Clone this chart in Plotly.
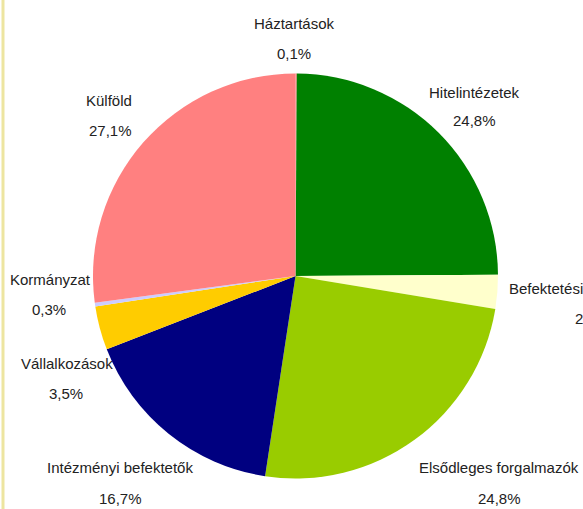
import plotly.graph_objects as go

# ---- data ----
categories = ["Háztartások", "Hitelintézetek", "Befektetési", "Elsődleges forgalmazók",
              "Intézményi befektetők", "Vállalkozások", "Kormányzat", "Külföld"]
shares = [0.1, 24.8, 2.7, 24.8, 16.7, 3.5, 0.3, 27.1]
colors = ["#FF8080", "#008000", "#FFFFCC", "#99CC00", "#000080", "#FFCC00", "#CCCCFF", "#FF8080"]

W, H = 583, 509

# label layout (pixel positions: name x, name y, value x, value y, anchor)
label_layout = {
    "Háztartások": (294, 24, 294, 53, "center"),
    "Hitelintézetek": (474, 92, 474, 121, "center"),
    "Befektetési": (507, 288, 573, 318, "left"),
    "Elsődleges forgalmazók": (499, 467, 499, 498, "center"),
    "Intézményi befektetők": (120, 467, 120, 498, "center"),
    "Vállalkozások": (67, 363, 66, 393, "center"),
    "Kormányzat": (50, 279, 49, 309, "center"),
    "Külföld": (109, 100, 110, 130, "center"),
}

FONT = "Liberation Sans, Arial, sans-serif"

fig = go.Figure(go.Pie(
    labels=categories,
    values=shares,
    sort=False,
    direction="clockwise",
    rotation=0,
    marker=dict(colors=colors, line=dict(width=0)),
    textinfo="none",
    hoverinfo="label+percent",
    showlegend=False,
    domain=dict(x=[93 / W, 498 / W], y=[1 - 479 / H, 1 - 73 / H]),
))

annotations = []
for cat, val in zip(categories, shares):
    x1, y1, x2, y2, anchor = label_layout[cat]
    annotations.append(dict(
        text=cat, x=x1 / W, y=1 - y1 / H, xref="paper", yref="paper",
        xanchor=anchor, yanchor="middle", showarrow=False,
        font=dict(family=FONT, size=15, color="#222222")))
    annotations.append(dict(
        text=f"{val:.1f}".replace(".", ",") + "%", x=x2 / W, y=1 - y2 / H,
        xref="paper", yref="paper",
        xanchor=anchor, yanchor="middle", showarrow=False,
        font=dict(family=FONT, size=15, color="#222222")))

fig.update_layout(
    width=W, height=H,
    margin=dict(l=0, r=0, t=0, b=0),
    paper_bgcolor="white",
    plot_bgcolor="white",
    annotations=annotations,
    shapes=[dict(type="line", xref="paper", yref="paper",
                 x0=3 / W, x1=3 / W, y0=0, y1=1,
                 line=dict(color="#EDE5A0", width=3))],
)

fig.write_html("out.html", config={"displayModeBar": False},
               post_script="document.body.style.margin='0';")
